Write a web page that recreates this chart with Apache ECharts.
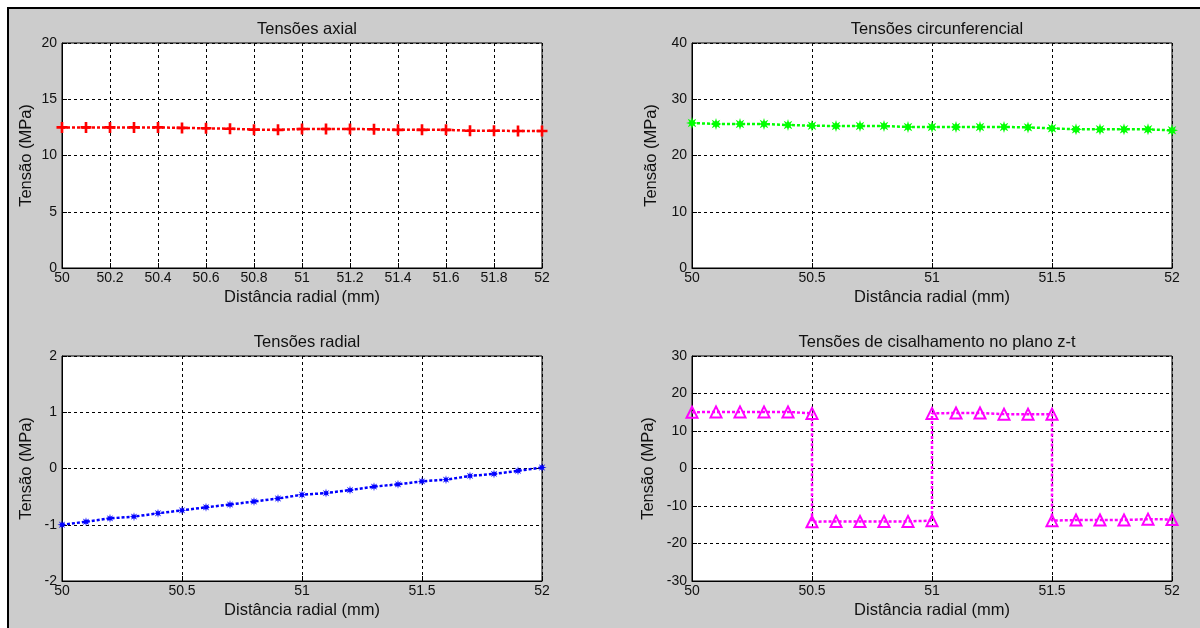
<!DOCTYPE html>
<html>
<head>
<meta charset="utf-8">
<script src="https://cdn.jsdelivr.net/npm/echarts@6/dist/echarts.min.js"></script>
<style>
  html, body { margin: 0; padding: 0; background: #ffffff; }
  #frame { position: absolute; left: 7px; top: 7px; width: 1200px; height: 628px;
           background: #cccccc; border-top: 2px solid #000; border-left: 2px solid #000; }
  #chart { position: absolute; left: 0; top: 0; width: 1200px; height: 628px; }
</style>
</head>
<body>
<div id="frame"></div>
<div id="chart"></div>
<script>
// ---- data ----
const titles = ['Tensões axial', 'Tensões circunferencial', 'Tensões radial', 'Tensões de cisalhamento no plano z-t'];
const xName = 'Distância radial (mm)';
const yName = 'Tensão (MPa)';

const xRadial = [50, 50.1, 50.2, 50.3, 50.4, 50.5, 50.6, 50.7, 50.8, 50.9, 51,
                 51.1, 51.2, 51.3, 51.4, 51.5, 51.6, 51.7, 51.8, 51.9, 52];

const axialVals = [12.5, 12.5, 12.5, 12.5, 12.5, 12.45, 12.42, 12.38, 12.3, 12.28, 12.36,
                   12.36, 12.36, 12.33, 12.28, 12.28, 12.28, 12.2, 12.2, 12.18, 12.18];

const circVals = [25.78, 25.6, 25.6, 25.6, 25.42, 25.3, 25.24, 25.24, 25.24, 25.07, 25.07,
                  25.07, 25.07, 25.07, 25.0, 24.83, 24.65, 24.65, 24.65, 24.65, 24.47];

const radialVals = [-1.0, -0.946, -0.886, -0.856, -0.796, -0.743, -0.689, -0.641, -0.587, -0.533, -0.467,
                    -0.437, -0.383, -0.323, -0.281, -0.228, -0.198, -0.132, -0.096, -0.042, 0.018];

const shearX = [50, 50.1, 50.2, 50.3, 50.4, 50.5, 50.5, 50.6, 50.7, 50.8, 50.9, 51,
                51, 51.1, 51.2, 51.3, 51.4, 51.5, 51.5, 51.6, 51.7, 51.8, 51.9, 52];
const shearVals = [15.0, 15.1, 15.1, 15.1, 15.1, 14.7, -14.2, -14.1, -14.1, -14.1, -14.1, -13.9,
                   14.7, 14.8, 14.8, 14.5, 14.5, 14.5, -13.9, -13.75, -13.75, -13.75, -13.5, -13.6];

const xIntervals = [0.2, 0.5, 0.5, 0.5];
const yRanges = [[0, 20, 5], [0, 40, 10], [-2, 2, 1], [-30, 30, 10]];

// ---- layout ----
const grids = [
  { left: 62, top: 43, width: 480, height: 225 },
  { left: 692, top: 43, width: 480, height: 225 },
  { left: 62, top: 356, width: 480, height: 225 },
  { left: 692, top: 356, width: 480, height: 225 }
];
const titleTops = [16, 16, 329, 329];
const yNameGaps = [27, 32, 27, 35];

const FONT = "'Liberation Sans', Arial, sans-serif";
const TXT = '#111';
const zip = (xs, ys) => xs.map((x, i) => [x, ys[i]]);

const plusPath = 'path://M3.8,0H6.2V3.8H10V6.2H6.2V10H3.8V6.2H0V3.8H3.8Z';
function starPath(inner) {
  let p = '';
  for (let i = 0; i < 16; i++) {
    const r = i % 2 === 0 ? 5 : inner;
    const a = Math.PI / 8 * i - Math.PI / 2;
    p += (i === 0 ? 'M' : 'L') + (5 + r * Math.cos(a)).toFixed(3) + ',' + (5 + r * Math.sin(a)).toFixed(3);
  }
  return 'path://' + p + 'Z';
}
const starBig = starPath(2.3);
const starSmall = starPath(2.0);

const option = {
  animation: false,
  textStyle: { fontFamily: FONT },
  title: titles.map((t, i) => ({
    text: t,
    left: grids[i].left + grids[i].width / 2,
    top: titleTops[i],
    textAlign: 'center',
    textStyle: { fontFamily: FONT, fontSize: 16.5, fontWeight: 'normal', color: TXT }
  })),
  grid: grids.map(g => Object.assign({}, g, {
    show: true, backgroundColor: '#ffffff', borderColor: '#000', borderWidth: 1, z: 0
  })),
  xAxis: grids.map((g, i) => ({
    type: 'value', gridIndex: i, min: 50, max: 52, interval: xIntervals[i],
    name: xName, nameLocation: 'middle', nameGap: 21,
    nameTextStyle: { fontFamily: FONT, fontSize: 16.5, color: TXT },
    axisLine: { show: true, onZero: false, lineStyle: { color: '#000', width: 1 } },
    axisTick: { show: true, inside: true, length: 5, lineStyle: { color: '#000' } },
    axisLabel: { fontFamily: FONT, fontSize: 14, color: TXT, margin: 3, showMinLabel: true, showMaxLabel: true },
    splitLine: { show: true, lineStyle: { color: '#000', type: [3, 3], width: 1 } }
  })),
  yAxis: grids.map((g, i) => ({
    type: 'value', gridIndex: i, min: yRanges[i][0], max: yRanges[i][1], interval: yRanges[i][2],
    name: yName, nameLocation: 'middle', nameGap: yNameGaps[i], nameRotate: 90,
    nameTextStyle: { fontFamily: FONT, fontSize: 16.5, color: TXT },
    axisLine: { show: true, onZero: false, lineStyle: { color: '#000', width: 1 } },
    axisTick: { show: true, inside: true, length: 5, lineStyle: { color: '#000' } },
    axisLabel: { fontFamily: FONT, fontSize: 14, color: TXT, margin: 5, showMinLabel: true, showMaxLabel: true },
    splitLine: { show: true, lineStyle: { color: '#000', type: [3, 3], width: 1 } }
  })),
  series: [
    {
      type: 'line', xAxisIndex: 0, yAxisIndex: 0, data: zip(xRadial, axialVals),
      symbol: plusPath, symbolSize: 11, showAllSymbol: true,
      lineStyle: { color: '#ff0000', width: 2.5, type: [3, 2] },
      itemStyle: { color: '#ff0000' }
    },
    {
      type: 'line', xAxisIndex: 1, yAxisIndex: 1, data: zip(xRadial, circVals),
      symbol: starBig, symbolSize: 12, showAllSymbol: true,
      lineStyle: { color: '#00ff00', width: 2.5, type: [3, 2] },
      itemStyle: { color: '#00ff00' }
    },
    {
      type: 'line', xAxisIndex: 2, yAxisIndex: 2, data: zip(xRadial, radialVals),
      symbol: starSmall, symbolSize: 9, showAllSymbol: true,
      lineStyle: { color: '#0000ff', width: 2.5, type: [3, 2] },
      itemStyle: { color: '#0000ff' }
    },
    {
      type: 'line', xAxisIndex: 3, yAxisIndex: 3, data: zip(shearX, shearVals),
      symbol: 'triangle', symbolSize: 11, showAllSymbol: true,
      lineStyle: { color: '#ff00ff', width: 2.5, type: [3, 2] },
      itemStyle: { color: 'rgba(255,255,255,0)', borderColor: '#ff00ff', borderWidth: 2 }
    }
  ]
};

const chart = echarts.init(document.getElementById('chart'), null, { renderer: 'canvas' });
chart.setOption(option);
</script>
</body>
</html>
